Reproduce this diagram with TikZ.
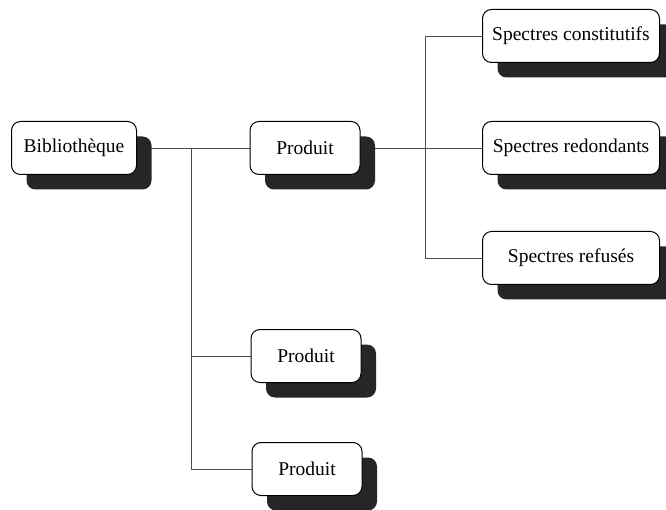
\documentclass[tikz,border=0pt]{standalone}
\usepackage{fontspec}
\setmainfont{Liberation Serif}
\usetikzlibrary{shadows,backgrounds}
\tikzset{
  box/.style={draw=black, line width=1pt, fill=white, rounded corners=9pt,
    minimum height=53pt, inner sep=0pt, font=\fontsize{19.5}{21}\selectfont,
    drop shadow={shadow xshift=15pt, shadow yshift=-15pt, fill=black!85, opacity=1}},
  link/.style={draw=black!70, line width=0.5pt}
}
\begin{document}
\begin{tikzpicture}[x=1pt,y=-1pt]
\useasboundingbox (0,0) rectangle (666,510);
\node[box, minimum width=125pt] (bib) at (74,148) {Biblioth\`eque};
\node[box, minimum width=110pt] (p1) at (305,148) {Produit};
\node[box, minimum width=110pt] (p2) at (306,356) {Produit};
\node[box, minimum width=110pt] (p3) at (307,469) {Produit};
\node[box, minimum width=177pt] (sc) at (571,36) {Spectres constitutifs};
\node[box, minimum width=177pt] (sr) at (571,148) {Spectres redondants};
\node[box, minimum width=177pt] (sf) at (571,258) {Spectres refus\'es};
\coordinate (j1) at (191,148);
\coordinate (j2) at (425,148);
\begin{scope}[on background layer]
\draw[link] (bib.east) -- (p1.west);
\draw[link] (j1) |- (p2.west);
\draw[link] (j1) |- (p3.west);
\draw[link] (p1.east) -- (sr.west);
\draw[link] (j2) |- (sc.west);
\draw[link] (j2) |- (sf.west);
\end{scope}
\end{tikzpicture}
\end{document}
